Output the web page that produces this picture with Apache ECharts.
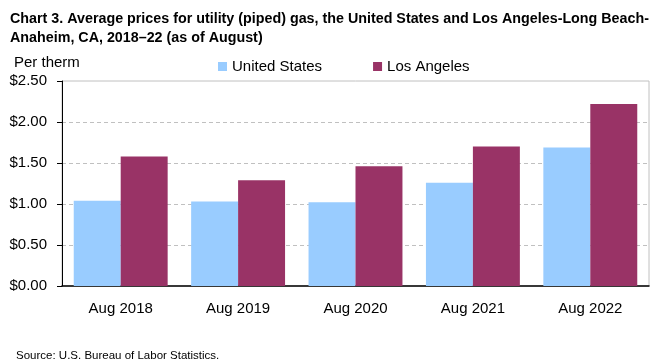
<!DOCTYPE html>
<html><head><meta charset="utf-8">
<script src="https://cdn.jsdelivr.net/npm/echarts@6/dist/echarts.min.js"></script>
<style>html,body{margin:0;padding:0;background:#fff}#c{width:661px;height:361px}</style>
</head><body><div id="c"></div>
<script>
const categories = ['Aug 2018','Aug 2019','Aug 2020','Aug 2021','Aug 2022'];
const usValues = [1.04, 1.03, 1.02, 1.26, 1.69];
const laValues = [1.58, 1.29, 1.46, 1.70, 2.22];
const seriesNames = ['United States','Los Angeles'];
const yMin = 0, yMax = 2.5, yStep = 0.5;

const FONT = '"Liberation Sans", Arial, sans-serif';
const chart = echarts.init(document.getElementById('c'), null, {renderer:'canvas'});
chart.setOption({
  animation:false,
  textStyle:{fontFamily:FONT},
  title:[{
    text:'Chart 3. Average prices for utility (piped) gas, the United States and Los Angeles-Long Beach-\nAnaheim, CA, 2018–22 (as of August)',
    left:5, top:5,
    textStyle:{fontFamily:FONT,fontSize:14.3,fontWeight:'bold',color:'#000',lineHeight:19}
  },{
    text:'Per therm', left:9, top:50,
    textStyle:{fontFamily:FONT,fontSize:15,fontWeight:'normal',color:'#000'}
  },{
    text:'Source: U.S. Bureau of Labor Statistics.', left:11, top:345,
    textStyle:{fontFamily:FONT,fontSize:11.5,fontWeight:'normal',color:'#000'}
  }],
  legend:{
    data:seriesNames, left:213, top:54, itemWidth:9, itemHeight:9, itemGap:51,
    icon:'rect', textStyle:{fontFamily:FONT,fontSize:15,color:'#000'}
  },
  grid:{left:62,right:12,top:81,bottom:75,show:true,borderColor:'#c0c0c0',borderWidth:1},
  xAxis:{
    type:'category', data:categories,
    axisLine:{lineStyle:{color:'#000',width:1.5}},
    axisTick:{show:false},
    axisLabel:{fontFamily:FONT,fontSize:15,color:'#000',margin:15}
  },
  yAxis:{
    type:'value', min:yMin, max:yMax, interval:yStep,
    axisLine:{show:true,lineStyle:{color:'#000',width:1}},
    axisTick:{show:true,length:5,lineStyle:{color:'#000'}},
    axisLabel:{fontFamily:FONT,fontSize:15,color:'#000',margin:15,
      formatter:v=>'$'+v.toFixed(2)},
    splitLine:{show:true,showMaxLine:false,showMinLine:false,lineStyle:{color:'#c0c0c0',type:[4,3]}}
  },
  series:[
    {name:seriesNames[0],type:'bar',data:usValues,itemStyle:{color:'#99ccff'},barGap:'0%',barCategoryGap:'20%'},
    {name:seriesNames[1],type:'bar',data:laValues,itemStyle:{color:'#993366'},barGap:'0%',barCategoryGap:'20%'}
  ]
});
</script></body></html>
